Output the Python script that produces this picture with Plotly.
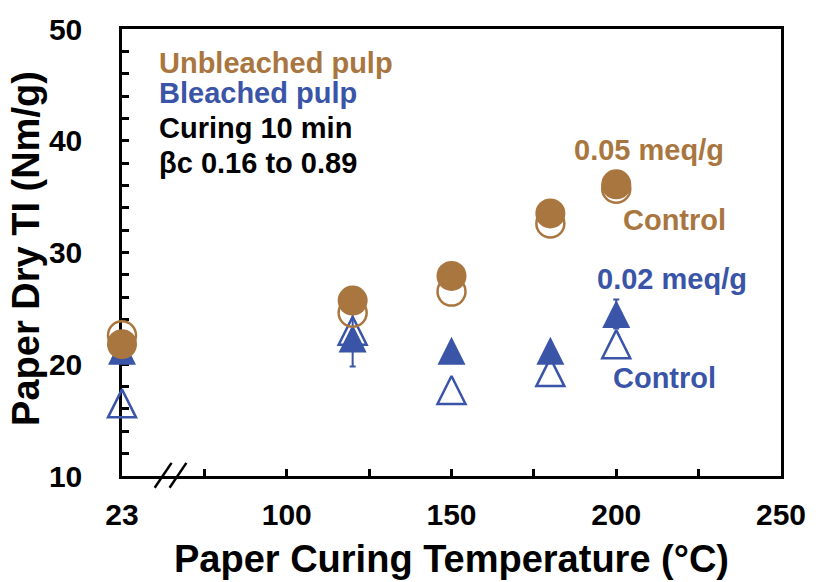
import plotly.graph_objects as go

# ---- data ----
temperatures = [23, 120, 150, 180, 200]           # °C
unbleached_treated = [21.8, 25.7, 27.9, 33.5, 36.1]  # 0.05 meq/g, filled circles
unbleached_control = [22.6, 24.6, 26.5, 32.6, 35.7]  # open circles
bleached_treated = [21.2, 22.3, 21.2, 21.2, 24.5]    # 0.02 meq/g, filled triangles
bleached_treated_err = [0.0, 2.5, 0.0, 0.0, 1.3]
bleached_control = [16.5, 23.0, 17.7, 19.3, 21.8]    # open triangles

x_tick_vals = [50, 100, 150, 200, 250]
x_tick_text = ["23", "100", "150", "200", "250"]
x_minor_vals = [75, 125, 175, 225]

# broken axis: room temperature is drawn at axis position 50
BREAK_POS = 50
def axis_pos(t):
    return BREAK_POS if t < BREAK_POS else t

xs = [axis_pos(t) for t in temperatures]

BROWN = "#A97640"
BLUE = "#3A54A8"
FONT = "Liberation Sans, Arial, sans-serif"

fig = go.Figure()

tri_size = 28
# open triangles (bleached control)
fig.add_trace(go.Scatter(
    x=xs, y=bleached_control, mode="markers", cliponaxis=False,
    marker=dict(symbol="arrow-down-open", angle=180, standoff=tri_size / 2,
                size=tri_size, color=BLUE, line=dict(width=2.5, color=BLUE)),
    hoverinfo="x+y"))
# filled triangles (bleached treated)
fig.add_trace(go.Scatter(
    x=xs, y=bleached_treated, mode="markers", cliponaxis=False,
    marker=dict(symbol="arrow-down", angle=180, standoff=tri_size / 2,
                size=tri_size, color=BLUE, line=dict(width=0)),
    error_y=dict(type="data", array=bleached_treated_err, visible=True,
                 color=BLUE, thickness=2, width=3),
    hoverinfo="x+y"))
# open circles (unbleached control)
fig.add_trace(go.Scatter(
    x=xs, y=unbleached_control, mode="markers", cliponaxis=False,
    marker=dict(symbol="circle-open", size=28, color=BROWN,
                line=dict(width=2.5, color=BROWN)),
    hoverinfo="x+y"))
# filled circles (unbleached treated)
fig.add_trace(go.Scatter(
    x=xs, y=unbleached_treated, mode="markers", cliponaxis=False,
    marker=dict(symbol="circle", size=30, color=BROWN, line=dict(width=0)),
    hoverinfo="x+y"))

axis_common = dict(
    showgrid=False, zeroline=False, showline=True, linecolor="black",
    linewidth=2.5, mirror=True, ticks="inside", ticklen=7, tickwidth=2.5,
    tickcolor="black", layer="below traces",
)

fig.update_xaxes(
    range=[50, 250], tickmode="array", tickvals=x_tick_vals, ticktext=x_tick_text,
    tickfont=dict(family=FONT, size=30, color="black", weight="bold"),
    ticklabelstandoff=10,
    minor=dict(tickmode="array", tickvals=x_minor_vals, ticks="inside",
               ticklen=7, tickwidth=2.5, tickcolor="black"),
    **axis_common)
fig.update_yaxes(
    range=[10, 50], tickmode="linear", tick0=10, dtick=10,
    tickfont=dict(family=FONT, size=30, color="black", weight="bold"),
    ticklabelstandoff=31,
    minor=dict(tickmode="linear", tick0=10, dtick=2, ticks="inside",
               ticklen=7, tickwidth=2.5, tickcolor="black"),
    **axis_common)

def ann(text, x, y, color, size=29, xanchor="center", xref="x", yref="y", angle=0):
    return dict(text=text, x=x, y=y, xref=xref, yref=yref, showarrow=False,
                xanchor=xanchor, yanchor="middle", textangle=angle,
                font=dict(family=FONT, size=size, color=color, weight="bold"))

annotations = [
    ann("Unbleached pulp", 60.5, 47.0, BROWN, xanchor="left"),
    ann("Bleached pulp", 60.5, 44.3, BLUE, xanchor="left"),
    ann("Curing 10 min", 60.5, 41.1, "black", xanchor="left"),
    ann("βc 0.16 to 0.89", 60.5, 38.0, "black", xanchor="left"),
    ann("0.05 meq/g", 210.0, 39.2, BROWN),
    ann("Control", 217.8, 32.9, BROWN),
    ann("0.02 meq/g", 216.9, 27.6, BLUE),
    ann("Control", 214.6, 18.8, BLUE),
    ann("Paper Curing Temperature (°C)", 0.5, -0.185, "black", size=38,
        xref="paper", yref="paper"),
    ann("Paper Dry TI (Nm/g)", -0.145, 0.509, "black", size=38,
        xref="paper", yref="paper", angle=-90),
]

shapes = [
    dict(type="line", xref="paper", yref="paper", x0=0.0496, y0=-0.0264,
         x1=0.0752, y1=0.0294, line=dict(color="black", width=2.5)),
    dict(type="line", xref="paper", yref="paper", x0=0.0722, y0=-0.0264,
         x1=0.0977, y1=0.0294, line=dict(color="black", width=2.5)),
]

fig.update_layout(
    width=818, height=582,
    margin=dict(l=122, r=31, t=22, b=106),
    paper_bgcolor="white", plot_bgcolor="white",
    showlegend=False,
    annotations=annotations, shapes=shapes,
    font=dict(family=FONT, color="black"),
)

fig.write_html("out.html")
